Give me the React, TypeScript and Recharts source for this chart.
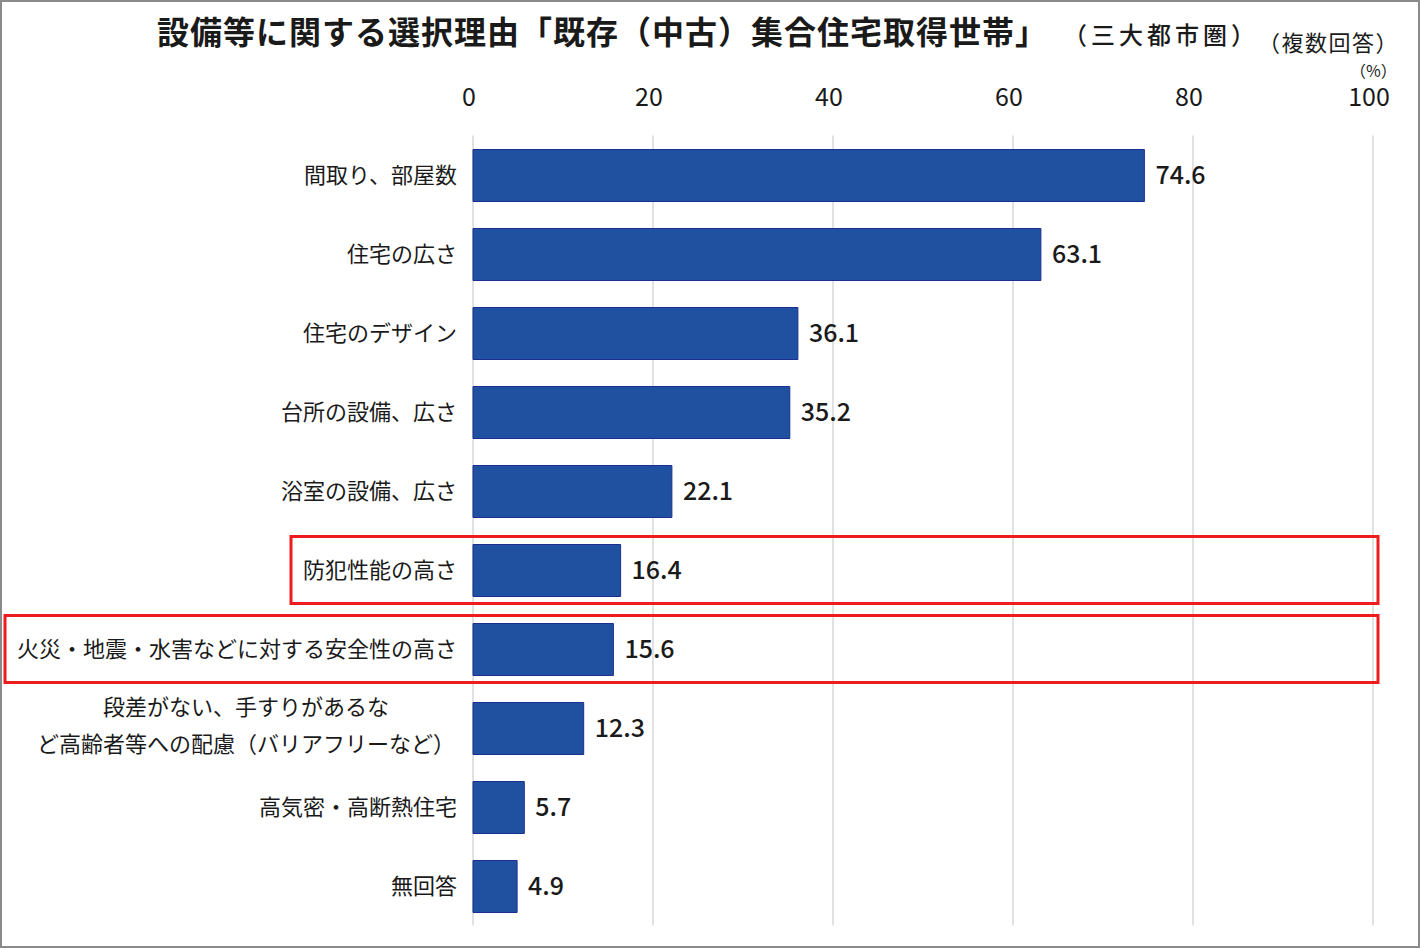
import { BarChart, Bar, XAxis, YAxis, CartesianGrid, LabelList, ReferenceArea } from 'recharts'

const categories = [
  '間取り、部屋数',
  '住宅の広さ',
  '住宅のデザイン',
  '台所の設備、広さ',
  '浴室の設備、広さ',
  '防犯性能の高さ',
  '火災・地震・水害などに対する安全性の高さ',
  '段差がない、手すりがあるな\nど高齢者等への配慮（バリアフリーなど）',
  '高気密・高断熱住宅',
  '無回答',
]
const values = [74.6, 63.1, 36.1, 35.2, 22.1, 16.4, 15.6, 12.3, 5.7, 4.9]
const highlighted = ['防犯性能の高さ', '火災・地震・水害などに対する安全性の高さ']
const xTicks = [0, 20, 40, 60, 80, 100]

const data = categories.map((name, i) => ({ name, value: values[i] }))

const FONT = '"Noto Sans CJK JP", "Noto Sans", sans-serif'
const LABEL_SIZE = 22
const TICK_GAP = 16

const CategoryTick = (props: any) => {
  const { x, y, payload } = props
  const lines: string[] = String(payload.value).split('\n')
  if (lines.length === 1) {
    return (
      <text x={x - TICK_GAP + 8} y={y} dy={8} textAnchor="end" fontSize={LABEL_SIZE} fill="#1a1a1a" fontFamily={FONT}>
        {lines[0]}
      </text>
    )
  }
  const longest = Math.max(...lines.map((l) => l.length))
  const cx = x - TICK_GAP + 8 - (longest * LABEL_SIZE) / 2 - 2
  return (
    <text x={cx} y={y} textAnchor="middle" fontSize={LABEL_SIZE} fill="#1a1a1a" fontFamily={FONT}>
      {lines.map((l, i) => (
        <tspan key={i} x={cx} dy={i === 0 ? -13 : 37}>
          {l}
        </tspan>
      ))}
    </text>
  )
}

const HighlightBox = (label: string) => (props: any) => {
  const { x, y, width, height } = props
  const left = x - TICK_GAP - label.length * LABEL_SIZE - 12
  return (
    <rect
      x={left}
      y={y + 6}
      width={x + width + 5 - left}
      height={height - 12}
      fill="none"
      stroke="#ee1c1c"
      strokeWidth={3}
    />
  )
}

export default function App() {
  return (
    <div style={{ position: 'absolute', left: 0, top: 0, width: 1420, height: 948, background: '#fff', fontFamily: FONT }}>
      <div style={{ position: 'absolute', left: 157, top: 7, fontSize: 32, letterSpacing: 1, fontWeight: 'bold', color: '#1a1a1a', whiteSpace: 'nowrap' }}>
        設備等に関する選択理由「既存（中古）集合住宅取得世帯」
      </div>
      <div style={{ position: 'absolute', left: 1063, top: 16, fontSize: 24, letterSpacing: 4, fontWeight: 500, color: '#1a1a1a', whiteSpace: 'nowrap' }}>
        （三大都市圏）
      </div>
      <div style={{ position: 'absolute', left: 1258, top: 25, fontSize: 22, letterSpacing: 1.5, color: '#1a1a1a', whiteSpace: 'nowrap' }}>
        （複数回答）
      </div>
      <div style={{ position: 'absolute', left: 1350, top: 62, fontSize: 16, lineHeight: 1, color: '#1a1a1a', whiteSpace: 'nowrap' }}>
        （%）
      </div>
      <div style={{ position: 'absolute', left: 0, top: 0 }}>
        <BarChart
          width={1420}
          height={948}
          data={data}
          layout="vertical"
          margin={{ top: 95.5, right: 47, bottom: 22.5, left: 0 }}
        >
          <CartesianGrid horizontal={false} stroke="#d9d9d9" strokeWidth={1.5} />
          <XAxis
            type="number"
            orientation="top"
            domain={[0, 100]}
            ticks={xTicks}
            height={40}
            axisLine={false}
            tickLine={false}
            tickMargin={24}
            tick={{ fontSize: 25, fill: '#1a1a1a', fontFamily: FONT, dx: -4 }}
          />
          <YAxis
            type="category"
            dataKey="name"
            width={473}
            axisLine={false}
            tickLine={false}
            interval={0}
            tick={<CategoryTick />}
          />
          <Bar dataKey="value" fill="#2050a0" stroke="#1a2f8f" strokeWidth={1} barSize={52} isAnimationActive={false}>
            <LabelList
              dataKey="value"
              position="right"
              offset={11}
              formatter={(v: any) => Number(v).toFixed(1)}
              style={{ fontSize: 25, fill: '#1a1a1a', fontFamily: FONT, fontWeight: 500 }}
            />
          </Bar>
          {highlighted.map((h) => (
            <ReferenceArea key={h} y1={h} y2={h} shape={HighlightBox(h)} />
          ))}
        </BarChart>
      </div>
      <div style={{ position: 'absolute', inset: 0, border: '2px solid #8a8a8a', boxSizing: 'border-box', pointerEvents: 'none' }} />
    </div>
  )
}
